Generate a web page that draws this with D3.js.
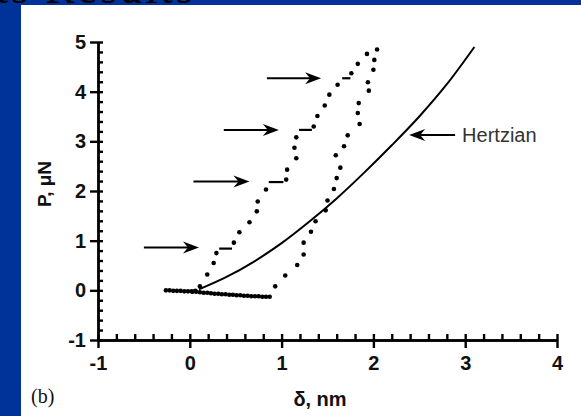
<!DOCTYPE html>
<html>
<head>
<meta charset="utf-8">
<script src="https://cdn.jsdelivr.net/npm/d3@7"></script>
<style>
  body { margin: 0; background: #003399; }
  svg { display: block; }
  .axis path, .axis line { stroke: #000; stroke-width: 2.4; }
  .axis text { font-family: Arial, "Liberation Sans", sans-serif; font-size: 20px; font-weight: bold; fill: #111; }
</style>
</head>
<body>
<div class="chart"></div>
<script>
var width = 581,
height = 416;

// loading curve, delta (nm) vs P (uN)
var loading = [
  [-0.26, 0.0], [-0.22, 0.0], [-0.18, -0.01], [-0.14, -0.01], [-0.10, -0.01],
  [-0.06, -0.02], [-0.02, -0.02], [0.02, -0.02], [0.06, -0.01],
  [0.11, 0.08], [0.19, 0.32], [0.26, 0.55], [0.29, 0.75],
  [0.48, 0.96], [0.54, 1.17], [0.65, 1.37], [0.73, 1.59], [0.74, 1.79], [0.83, 2.03],
  [1.05, 2.23], [1.06, 2.43], [1.16, 2.66], [1.14, 2.87], [1.16, 3.08],
  [1.35, 3.30], [1.39, 3.51], [1.47, 3.72], [1.52, 3.94], [1.61, 4.14],
  [1.76, 4.37], [1.83, 4.56], [1.93, 4.76], [2.04, 4.85]
];
// unloading curve
var unloading = [
  [2.01, 4.64], [2.00, 4.44], [1.94, 4.19], [1.95, 4.02], [1.84, 3.77], [1.83, 3.57],
  [1.85, 3.35], [1.72, 3.12], [1.68, 2.90], [1.59, 2.72], [1.64, 2.47], [1.60, 2.26],
  [1.57, 2.04], [1.50, 1.81], [1.48, 1.61], [1.37, 1.39], [1.32, 1.18], [1.24, 0.96],
  [1.24, 0.72], [1.17, 0.51], [1.04, 0.30], [0.93, 0.08],
  [0.87, -0.13], [0.83, -0.13], [0.79, -0.13], [0.75, -0.12], [0.71, -0.12], [0.67, -0.12],
  [0.63, -0.11], [0.59, -0.11], [0.55, -0.10], [0.51, -0.10], [0.47, -0.09], [0.43, -0.09],
  [0.39, -0.08], [0.35, -0.08], [0.31, -0.07], [0.27, -0.07], [0.23, -0.06], [0.19, -0.05],
  [0.15, -0.05], [0.11, -0.04], [0.07, -0.03], [0.03, -0.03]
];
// pop-in bursts: [x start, x end, P]
var bursts = [[0.32, 0.46, 0.84], [0.86, 1.02, 2.18], [1.19, 1.33, 3.23], [1.66, 1.75, 4.27]];
// arrows pointing at the bursts: [x start, x tip, P]
var burstArrows = [[-0.50, 0.10, 0.86], [0.04, 0.65, 2.19], [0.37, 0.97, 3.23], [0.84, 1.43, 4.27]];
// hertzian fit
var hertzian = [
  [0.10, 0.02], [0.40, 0.27], [0.70, 0.58], [1.00, 0.95], [1.30, 1.38], [1.60, 1.85],
  [1.90, 2.37], [2.20, 2.92], [2.50, 3.50], [2.80, 4.15], [3.10, 4.90]
];
var hertzArrow = [2.89, 2.39, 3.13];
var xTicks = [-1, 0, 1, 2, 3, 4],
yTicks = [-1, 0, 1, 2, 3, 4, 5];

var svg = d3.select(".chart")
  .append("svg")
  .attr("width", width)
  .attr("height", height);

// slide background + white panel
svg.append("rect").attr("width", width).attr("height", height).attr("fill", "#003399");
svg.append("text")
  .attr("x", -4).attr("y", 3)
  .attr("font-family", "Liberation Serif, serif").attr("font-size", 44)
  .attr("letter-spacing", 3)
  .text("ts Results");
svg.append("rect").attr("x", 21).attr("y", 5).attr("width", width - 21).attr("height", height - 5).attr("fill", "#fff");

var x = d3.scaleLinear().domain([-1, 4]).range([98, 557]),
y = d3.scaleLinear().domain([-1, 5]).range([340, 42]);

var minorX = d3.range(-1, 4.001, 0.2),
minorY = d3.range(-1, 5.001, 0.2);

// x axis: inward minor ticks, outward major ticks
svg.append("g").attr("class", "axis")
  .attr("transform", "translate(0," + y(-1) + ")")
  .call(d3.axisBottom(x).tickValues(minorX).tickSize(-6).tickSizeOuter(0).tickFormat(""));
svg.append("g").attr("class", "axis")
  .attr("transform", "translate(0," + y(-1) + ")")
  .call(d3.axisBottom(x).tickValues(xTicks).tickSize(8).tickSizeOuter(0).tickPadding(8).tickFormat(String));

svg.append("g").attr("class", "axis")
  .attr("transform", "translate(" + x(-1) + ",0)")
  .call(d3.axisLeft(y).tickValues(minorY).tickSize(-5).tickSizeOuter(0).tickFormat(""));
svg.append("g").attr("class", "axis")
  .attr("transform", "translate(" + x(-1) + ",0)")
  .call(d3.axisLeft(y).tickValues(yTicks).tickSize(8).tickSizeOuter(0).tickPadding(4).tickFormat(String));

// hertzian line
svg.append("path")
  .datum(hertzian)
  .attr("fill", "none")
  .attr("stroke", "#000")
  .attr("stroke-width", 2)
  .attr("d", d3.line().x(function(d){return x(d[0]);}).y(function(d){return y(d[1]);}).curve(d3.curveCatmullRom));

// bursts
svg.append("g").selectAll("line")
  .data(bursts)
  .enter().append("line")
  .attr("x1", function(d){return x(d[0]);})
  .attr("x2", function(d){return x(d[1]);})
  .attr("y1", function(d){return y(d[2]);})
  .attr("y2", function(d){return y(d[2]);})
  .attr("stroke", "#000").attr("stroke-width", 2.2);

// dots
svg.append("g").selectAll("circle")
  .data(loading.concat(unloading))
  .enter().append("circle")
  .attr("r", 2.3)
  .attr("cx", function(d){return x(d[0]);})
  .attr("cy", function(d){return y(d[1]);})
  .attr("fill", "#000");

// arrows
var drawArrow = function(a) {
  var x0 = x(a[0]), x1 = x(a[1]), yy = y(a[2]);
  var dir = x1 > x0 ? 1 : -1;
  svg.append("line")
    .attr("x1", x0).attr("x2", x1 - dir * 8)
    .attr("y1", yy).attr("y2", yy)
    .attr("stroke", "#000").attr("stroke-width", 2);
  svg.append("path")
    .attr("d", "M" + x1 + "," + yy + "L" + (x1 - dir * 16) + "," + (yy - 6) +
      "L" + (x1 - dir * 11) + "," + yy + "L" + (x1 - dir * 16) + "," + (yy + 6) + "Z")
    .attr("fill", "#000");
};
burstArrows.forEach(drawArrow);
drawArrow(hertzArrow);

svg.append("text")
  .attr("x", x(hertzArrow[0]) + 7).attr("y", y(hertzArrow[2]) + 7)
  .attr("font-family", "Arial, Liberation Sans, sans-serif").attr("font-size", 20)
  .attr("fill", "#333")
  .text("Hertzian");

// axis titles
svg.append("text")
  .attr("transform", "translate(51,184) rotate(-90)")
  .attr("text-anchor", "middle")
  .attr("font-family", "Arial, Liberation Sans, sans-serif").attr("font-size", 19).attr("font-weight", "bold")
  .attr("fill", "#111")
  .text("P, \u03bcN");
svg.append("text")
  .attr("x", 320).attr("y", 406)
  .attr("text-anchor", "middle")
  .attr("font-family", "Arial, Liberation Sans, sans-serif").attr("font-size", 20).attr("font-weight", "bold")
  .attr("fill", "#111")
  .text("\u03b4, nm");
svg.append("text")
  .attr("x", 31).attr("y", 403)
  .attr("font-family", "Liberation Serif, Times New Roman, serif").attr("font-size", 20)
  .attr("fill", "#111")
  .text("(b)");
</script>
</body>
</html>
